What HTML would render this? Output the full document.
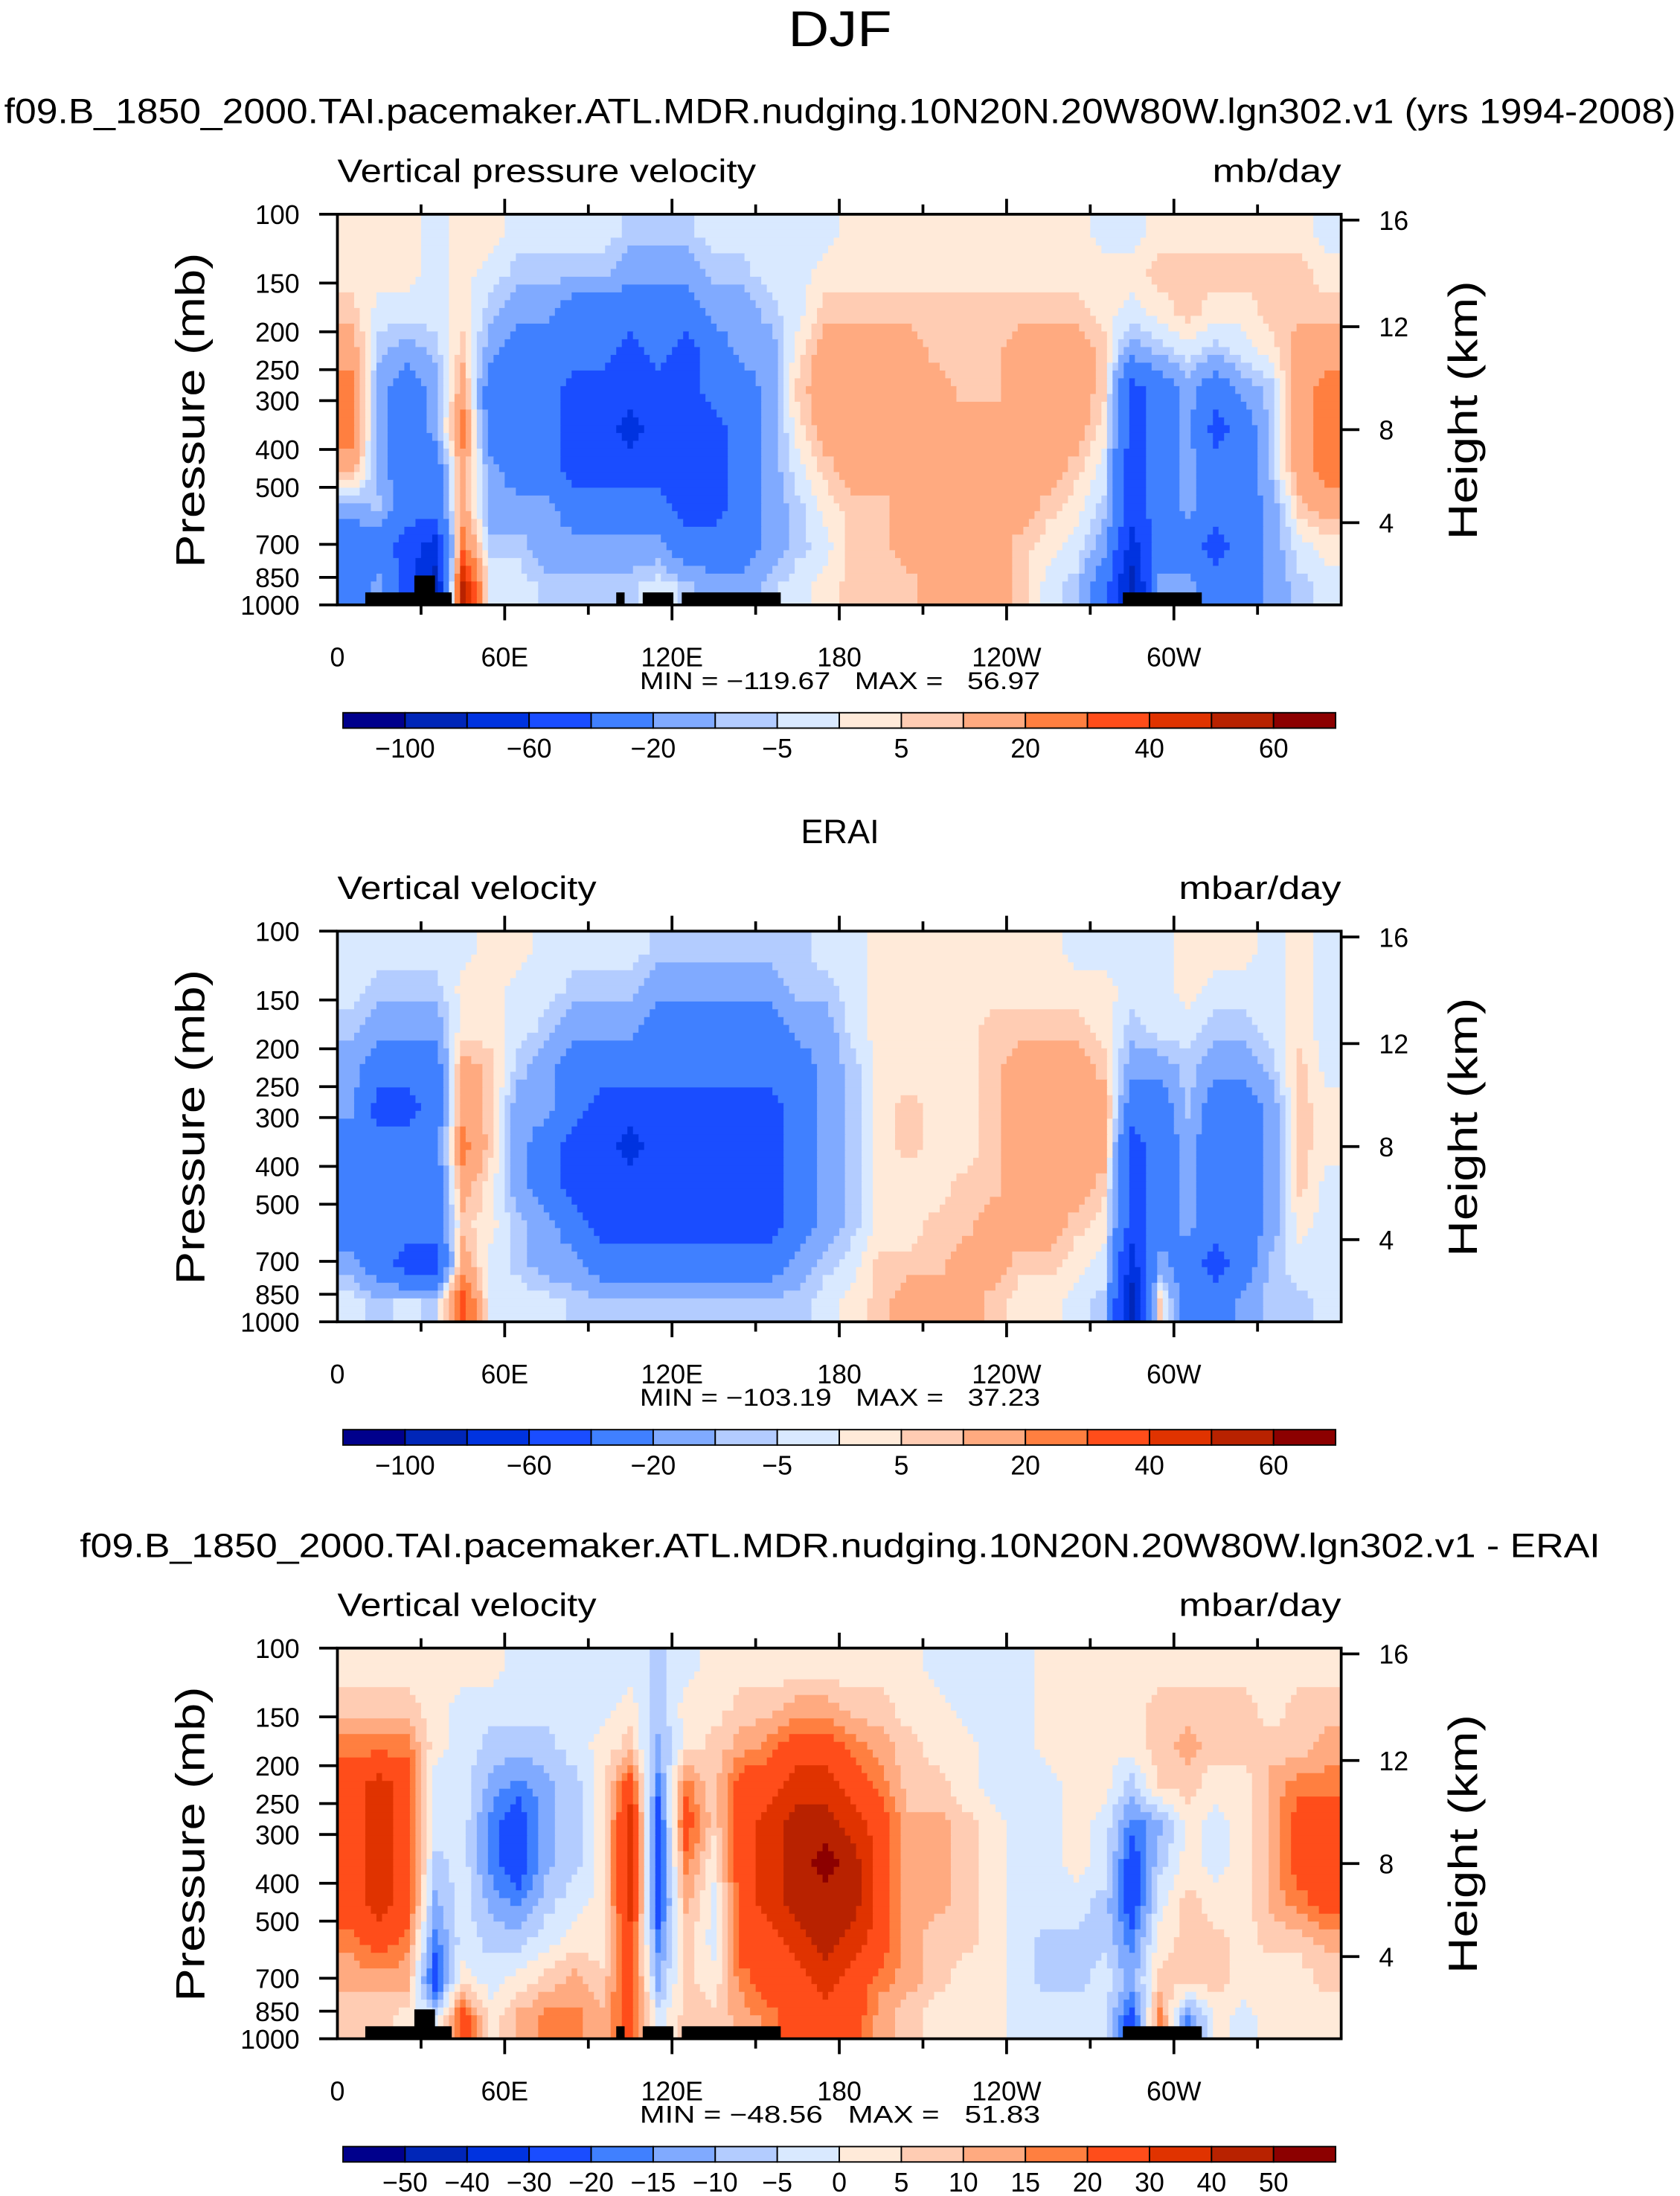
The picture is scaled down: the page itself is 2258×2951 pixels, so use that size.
<!DOCTYPE html>
<html><head><meta charset="utf-8"><title>DJF Vertical velocity</title>
<style>
html,body{margin:0;padding:0;background:#fff;}
svg{display:block;}
text{font-family:"Liberation Sans",sans-serif;fill:#000;}
</style></head>
<body>
<svg id="fig" xmlns="http://www.w3.org/2000/svg" width="2258" height="2951" viewBox="0 0 1200 1568.3">
<text x="600" y="33" font-size="36" text-anchor="middle" textLength="74" lengthAdjust="spacingAndGlyphs">DJF</text>
<text x="600" y="88" font-size="25" text-anchor="middle" textLength="1194" lengthAdjust="spacingAndGlyphs">f09.B_1850_2000.TAI.pacemaker.ATL.MDR.nudging.10N20N.20W80W.lgn302.v1 (yrs 1994-2008)</text>
<text x="600" y="602" font-size="24" text-anchor="middle">ERAI</text>
<text x="600" y="1112" font-size="24" text-anchor="middle" textLength="1086" lengthAdjust="spacingAndGlyphs">f09.B_1850_2000.TAI.pacemaker.ATL.MDR.nudging.10N20N.20W80W.lgn302.v1 - ERAI</text>
</svg>
<script>
// ---- data ----
const colors = ["#00008c","#0026b8","#0033e0","#1a4dff","#4080ff","#80aaff","#b3ccff","#d9e9ff","#ffead9","#ffccb3","#ffaa80","#ff7f40","#ff4d1a","#e03300","#b82200","#8c0000"];
const levelsModel = [-100,-80,-60,-40,-20,-10,-5,0,5,10,20,30,40,50,60];
const levelsDiff = [-50,-40,-30,-20,-15,-10,-5,0,5,10,15,20,30,40,50];
const cbLabelsModel = ["-100","","-60","","-20","","-5","","5","","20","","40","","60"];
const cbLabelsDiff = ["-50","-40","-30","-20","-15","-10","-5","0","5","10","15","20","30","40","50"];
const pressureTicks = [100,150,200,250,300,400,500,700,850,1000];
const heightTicks = [4,8,12,16];
const heightPressures = [616,356,194,103.5];
const lonTicks = [0,60,120,180,240,300];
const lonLabels = ["0","60E","120E","180","120W","60W"];
// ground (terrain) blocks: [lonStart, lonEnd, topPressure]
const groundStart = [10,27.6,100,109.5,123.5,281.7];
const groundEnd = [41,35,103,120.5,159,310];
const groundTop = [929,841,929,929,929,929];
// fields: each column = 10 deg lon bin (0..360), values top (100mb) -> bottom (1000mb)
const modelField = [
[2,2,7,15,25,25,15,-15,-30,-30],
[2,2,-2,-7,-15,-15,-15,-7,-30,-15],
[2,2,-2,-15,-30,-30,-30,-30,-50,-50],
[-2,-2,-2,-7,-15,-15,-30,-30,-70,-90],
[2,2,2,7,15,25,15,15,25,55],
[2,-2,-7,-15,-30,-30,-15,-15,-7,-2],
[-2,-7,-15,-30,-30,-30,-30,-15,-7,-2],
[-2,-7,-15,-30,-30,-30,-30,-15,-15,-7],
[-2,-7,-30,-30,-50,-50,-50,-30,-15,-7],
[-2,-7,-30,-30,-50,-50,-50,-30,-15,-7],
[-7,-15,-30,-50,-50,-70,-50,-30,-15,-7],
[-7,-15,-30,-30,-50,-50,-50,-30,-15,-2],
[-7,-15,-30,-50,-50,-50,-50,-50,-30,-7],
[-2,-7,-15,-30,-30,-50,-50,-50,-30,-15],
[-2,-7,-15,-15,-30,-30,-30,-30,-30,-15],
[-2,-2,-7,-15,-15,-15,-15,-15,-15,-7],
[-2,-2,-2,2,7,2,-2,-7,-7,-2],
[-2,2,7,15,15,15,7,2,-2,2],
[2,2,7,15,15,15,15,7,7,7],
[2,2,7,15,15,15,15,7,7,7],
[2,2,7,15,15,15,15,15,15,7],
[2,2,7,7,15,15,15,15,15,15],
[2,2,7,7,7,15,15,15,15,15],
[2,2,7,7,7,15,15,15,15,15],
[2,2,7,15,15,15,15,15,7,7],
[2,2,7,15,15,15,15,7,2,-2],
[2,2,7,15,15,15,7,2,-2,-7],
[-2,2,2,7,7,2,-2,-7,-15,-30],
[-2,2,-2,-15,-50,-50,-50,-50,-70,-90],
[2,7,2,-7,-30,-30,-30,-30,-30,-15],
[2,7,7,-2,-15,-15,-15,-15,-30,-15],
[2,7,2,-7,-30,-50,-30,-30,-50,-30],
[2,7,2,-2,-15,-30,-30,-30,-30,-30],
[2,7,7,2,-7,-7,-7,-15,-15,-15],
[2,7,7,15,15,15,15,7,-2,-7],
[-2,2,7,15,25,25,25,15,2,-2]
];
const eraiField = [
[-2,-2,-7,-15,-15,-30,-30,-30,-15,-2],
[-2,-7,-15,-30,-50,-30,-30,-30,-30,-7],
[-2,-7,-15,-30,-50,-30,-30,-30,-50,-2],
[-2,-7,-15,-30,-30,-30,-30,-30,-50,-7],
[-2,2,2,15,15,25,15,7,15,35],
[2,2,2,7,7,7,2,2,-2,-2],
[2,-2,-2,-7,-15,-15,-15,-7,-7,-2],
[-2,-2,-7,-15,-15,-30,-30,-15,-15,-2],
[-2,-7,-15,-30,-30,-50,-50,-30,-15,-7],
[-2,-7,-15,-30,-50,-50,-50,-50,-30,-7],
[-2,-7,-15,-30,-50,-70,-50,-50,-30,-7],
[-7,-15,-30,-30,-50,-50,-50,-50,-30,-7],
[-7,-15,-30,-30,-50,-50,-50,-50,-30,-7],
[-7,-15,-30,-30,-50,-50,-50,-50,-30,-7],
[-7,-15,-30,-30,-50,-50,-50,-50,-30,-7],
[-7,-15,-30,-30,-50,-50,-50,-50,-30,-7],
[-7,-7,-15,-30,-30,-30,-30,-30,-15,-7],
[-2,-7,-15,-15,-15,-15,-15,-15,-7,-2],
[-2,-2,-2,-7,-7,-7,-7,-7,-2,2],
[2,2,2,2,2,2,2,2,7,7],
[2,2,2,2,7,7,2,2,7,15],
[2,2,2,2,2,2,2,7,7,15],
[2,2,2,2,2,2,7,7,15,15],
[2,2,7,7,7,7,7,15,15,7],
[2,2,7,15,15,15,15,15,7,2],
[2,2,7,15,15,15,15,15,7,2],
[-2,2,7,15,15,15,15,7,2,-2],
[-2,2,2,7,15,15,7,2,-2,-7],
[-2,-2,-7,-15,-30,-50,-50,-50,-70,-90],
[-2,-2,-2,-15,-30,-30,-30,-30,-15,7],
[2,2,-2,-7,-7,-15,-15,-15,-30,-30],
[2,-2,-7,-15,-30,-30,-30,-30,-50,-30],
[2,-2,-7,-15,-30,-30,-30,-30,-30,-15],
[-2,-2,-2,-7,-15,-15,-15,-15,-7,-7],
[2,2,2,7,7,7,7,2,-2,-7],
[-2,-2,-2,-2,2,2,-2,-2,-2,-2]
];
const diffField = [
[2,7,17,25,25,25,25,17,12,7],
[2,7,17,35,35,35,35,25,12,7],
[2,7,17,25,25,25,25,17,12,2],
[2,2,2,-2,-2,-7,-12,-17,-25,-2],
[2,-2,-2,-2,-2,-2,-2,-2,2,25],
[2,-2,-7,-12,-17,-17,-12,-7,-2,2],
[-2,-2,-7,-17,-25,-25,-17,-7,2,12],
[-2,-2,-7,-12,-12,-12,-7,-2,7,17],
[-2,-2,-2,-7,-7,-7,-2,2,12,17],
[-2,-2,2,2,2,2,2,2,7,12],
[-2,2,7,25,35,35,35,25,25,25],
[-7,-7,-12,-17,-25,-25,-25,-17,-12,-2],
[-2,2,2,17,25,17,12,7,7,7],
[2,2,7,7,7,2,-2,-2,2,7],
[2,7,12,25,25,25,25,25,17,12],
[2,7,17,25,35,35,35,25,25,17],
[2,12,25,35,45,45,45,35,25,25],
[2,12,25,35,45,55,45,45,35,25],
[2,7,17,25,35,45,45,35,25,25],
[2,7,12,17,25,25,25,25,17,12],
[2,2,7,7,12,12,12,12,12,7],
[-2,2,2,7,12,12,12,7,7,2],
[-2,-2,2,2,7,7,7,7,2,2],
[-2,-2,-2,-2,2,2,2,2,2,2],
[-2,-2,-2,-2,-2,-2,-2,-2,-2,-2],
[2,2,2,-2,-2,-2,-2,-7,-7,-2],
[2,2,2,2,2,2,-2,-7,-7,-2],
[2,2,2,2,-2,-2,-7,-7,-2,-2],
[2,2,2,-7,-17,-25,-25,-17,-12,-25],
[2,7,7,7,-12,-7,-2,2,7,17],
[2,7,12,7,2,2,7,7,7,-17],
[2,7,7,2,-2,-2,2,7,7,2],
[2,7,7,2,2,2,2,2,2,-2],
[2,2,7,12,12,12,12,7,2,2],
[2,7,7,17,25,25,17,7,2,2],
[2,7,12,17,25,25,25,12,7,2]
];
const minMaxModel = ["-119.67","56.97"];
const minMaxErai = ["-103.19","37.23"];
const minMaxDiff = ["-48.56","51.83"];

// ---- drawing ----
const NS = "http://www.w3.org/2000/svg";
const svg = document.getElementById("fig");
const X0 = 241, X1 = 958, PH = 279;
function mk(tag, attrs, parent) {
  const e = document.createElementNS(NS, tag);
  for (const k in attrs) e.setAttribute(k, attrs[k]);
  (parent || svg).appendChild(e);
  return e;
}
function xOfLon(lon) { return X0 + lon / 360 * (X1 - X0); }
function yOfP(top, p) { return top + Math.log10(p / 100) * PH; }
function classOf(v, levels) { let c = 0; for (const b of levels) if (v >= b) c++; return c; }

function drawPanel(top, field, levels, leftTitle, titleW, units, unitsW, minmax, key, tickPressures, groundOn) {
  const g = mk("g", {});
  
  
  const cols = field.length, rows = field[0].length, sub = 5;
  const nx = cols * sub, ny = rows * sub;
  const cw = (X1 - X0) / nx, rh = PH / ny;
  const fg = mk("g", {}, g);
  
  
  function val(u, v) {
    let a = Math.min(Math.max(u - 0.5, 0), cols - 1), b = Math.min(Math.max(v - 0.5, 0), rows - 1);
    const i0 = Math.floor(a), j0 = Math.floor(b), i1 = Math.min(i0 + 1, cols - 1), j1 = Math.min(j0 + 1, rows - 1);
    const fx = a - i0, fy = b - j0;
    return (field[i0][j0] * (1 - fx) + field[i1][j0] * fx) * (1 - fy) + (field[i0][j1] * (1 - fx) + field[i1][j1] * fx) * fy;
  }
  for (let j = 0; j < ny; j++) {
    let start = 0, cur = -1;
    for (let i = 0; i <= nx; i++) {
      const c = i < nx ? classOf(val((i + 0.5) / sub, (j + 0.5) / sub), levels) : -2;
      if (c !== cur) {
        if (cur >= 0) {
          const r = mk("rect", { x: (X0 + start * cw).toFixed(2), y: (top + j * rh).toFixed(2), width: ((i - start) * cw + 0.6).toFixed(2), height: (rh + 0.6).toFixed(2), fill: colors[cur] }, fg);
          
          
        }
        start = i; cur = c;
      }
    }
  }
  if (groundOn) {
    for (let k = 0; k < groundStart.length; k++) {
      const y = yOfP(top, groundTop[k]);
      const r = mk("rect", { x: xOfLon(groundStart[k]), y: y, width: xOfLon(groundEnd[k]) - xOfLon(groundStart[k]), height: top + PH - y, fill: "#000" }, g);
      
      
    }
  }
  const frame = mk("rect", { x: X0, y: top, width: X1 - X0, height: PH, fill: "none", stroke: "#000", "stroke-width": 2 }, g);
  
  
  for (const p of tickPressures) {
    const y = yOfP(top, p);
    mk("line", { x1: X0 - 13, x2: X0, y1: y, y2: y, stroke: "#000", "stroke-width": 2 }, g);
    const t = mk("text", { x: X0 - 27, y: y + 7, "font-size": 19, "text-anchor": "end" }, g);
    t.textContent = p;
    
    
  }
  for (let k = 0; k < heightTicks.length; k++) {
    const y = yOfP(top, heightPressures[k]);
    mk("line", { x1: X1, x2: X1 + 13, y1: y, y2: y, stroke: "#000", "stroke-width": 2 }, g);
    const t = mk("text", { x: X1 + 27, y: y + 7, "font-size": 19 }, g);
    t.textContent = heightTicks[k];
    
    
  }
  for (let lon = 30; lon < 360; lon += 30) {
    const x = xOfLon(lon), L = lon % 60 === 0 ? 11 : 7;
    mk("line", { x1: x, x2: x, y1: top - L, y2: top, stroke: "#000", "stroke-width": 2 }, g);
    mk("line", { x1: x, x2: x, y1: top + PH, y2: top + PH + L, stroke: "#000", "stroke-width": 2 }, g);
  }
  for (let k = 0; k < lonTicks.length; k++) {
    const t = mk("text", { x: xOfLon(lonTicks[k]), y: top + PH + 44, "font-size": 19, "text-anchor": "middle" }, g);
    t.textContent = lonLabels[k];
    
    
  }
  const lt = mk("text", { x: X0, y: top - 23, "font-size": 23, textLength: titleW, lengthAdjust: "spacingAndGlyphs" }, g);
  lt.textContent = leftTitle;
  
  
  const ut = mk("text", { x: X1 - unitsW, y: top - 23, "font-size": 23, textLength: unitsW, lengthAdjust: "spacingAndGlyphs" }, g);
  ut.textContent = units;
  
  
  const ya = mk("text", { x: 0, y: 0, "font-size": 29, "text-anchor": "middle", textLength: 225, lengthAdjust: "spacingAndGlyphs", transform: "translate(146," + (top + 140) + ") rotate(-90)" }, g);
  ya.textContent = "Pressure (mb)";
  
  
  const yb = mk("text", { x: 0, y: 0, "font-size": 29, "text-anchor": "middle", textLength: 185, lengthAdjust: "spacingAndGlyphs", transform: "translate(1055," + (top + 140) + ") rotate(-90)" }, g);
  yb.textContent = "Height (km)";
  
  
  const mm = mk("text", { x: 457, y: top + PH + 60, "font-size": 17, style: "white-space:pre", textLength: 286, lengthAdjust: "spacingAndGlyphs" }, g);
  mm.textContent = "MIN = " + minmax[0].replace("-", "\u2212") + "   MAX =   " + minmax[1];
  
  
}

function drawColorbar(top, labels, key) {
  const g = mk("g", {});
  
  
  const L = 245, W = 709, bw = W / 16;
  for (let i = 0; i < 16; i++) {
    const r = mk("rect", { x: L + i * bw, y: top, width: bw, height: 11, fill: colors[i], stroke: "#000", "stroke-width": 1 }, g);
    
    
  }
  for (let i = 0; i < labels.length; i++) {
    if (!labels[i]) continue;
    const t = mk("text", { x: L + (i + 1) * bw, y: top + 32, "font-size": 19, "text-anchor": "middle" }, g);
    t.textContent = labels[i].replace("-", "\u2212");
    
    
  }
}

drawPanel(153, modelField, levelsModel, "Vertical pressure velocity", 299, "mb/day", 92, minMaxModel, "model", pressureTicks, true);
drawColorbar(509, cbLabelsModel, "model");
drawPanel(665, eraiField, levelsModel, "Vertical velocity", 185, "mbar/day", 116, minMaxErai, "erai", pressureTicks, false);
drawColorbar(1021, cbLabelsModel, "erai");
drawPanel(1177, diffField, levelsDiff, "Vertical velocity", 185, "mbar/day", 116, minMaxDiff, "diff", pressureTicks, true);
drawColorbar(1533, cbLabelsDiff, "diff");
</script>
</body></html>
